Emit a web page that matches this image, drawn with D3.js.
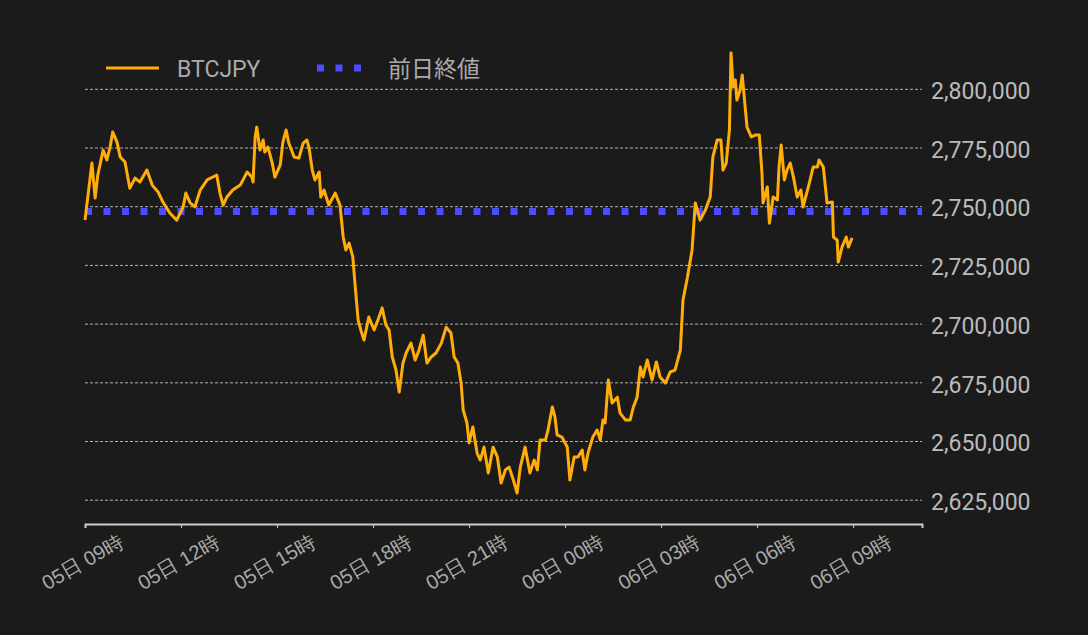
<!DOCTYPE html>
<html><head><meta charset="utf-8">
<script src="https://cdn.jsdelivr.net/npm/d3@7"></script>
<style>body{margin:0;background:#1b1b1b;}svg{display:block;font-family:"Noto Sans CJK JP","Noto Sans",sans-serif;}</style>
</head><body><svg id="c" width="1088" height="635"></svg>
<script>
// minutes after 05日 09:00
const minutes=[0,13,19,24,34,41,47,52,60,66,75,84,94,103,116,126,137,146,159,172,184,189,197,206,216,229,247,253,259,266,277,291,304,313,315,319,322,328,334,337,343,351,356,366,371,377,382,392,401,409,416,420,426,431,439,442,448,457,469,478,484,489,495,502,506,512,517,523,532,542,549,557,564,570,576,583,589,596,602,611,619,626,634,641,649,658,668,677,686,692,699,705,709,716,720,727,735,741,748,756,765,773,780,788,795,803,810,816,825,834,842,848,853,863,868,876,881,885,894,904,909,917,924,932,937,943,952,960,966,971,975,981,988,998,1003,1013,1022,1028,1035,1041,1046,1054,1063,1071,1078,1088,1097,1106,1116,1121,1129,1138,1144,1153,1163,1172,1177,1185,1192,1196,1202,1208,1211,1215,1219,1222,1228,1232,1238,1241,1249,1256,1264,1269,1271,1279,1283,1290,1298,1301,1305,1311,1316,1322,1328,1335,1342,1346,1356,1365,1373,1376,1384,1391,1401,1403,1410,1412,1419,1427,1431,1438];
// price in thousand JPY
const prices=[2744.3,2768.6,2753.7,2763.5,2774.1,2769.9,2775.4,2781.8,2777.5,2771.2,2769.0,2757.9,2762.2,2760.5,2765.6,2759.2,2756.3,2752.0,2747.3,2744.3,2749.9,2755.8,2751.6,2749.9,2757.1,2761.4,2763.5,2755.8,2750.7,2754.1,2757.1,2759.2,2764.8,2762.6,2760.5,2779.7,2783.9,2774.1,2778.4,2773.3,2775.4,2768.6,2762.6,2767.8,2777.5,2782.7,2777.1,2771.2,2770.7,2777.1,2778.4,2775.0,2765.6,2761.4,2764.8,2754.1,2757.1,2750.7,2755.8,2750.7,2737.1,2731.6,2734.5,2728.6,2717.5,2701.7,2697.5,2693.2,2703.0,2697.5,2701.7,2706.9,2699.6,2697.5,2686.0,2680.4,2671.1,2683.4,2687.7,2691.9,2684.7,2688.9,2695.3,2683.4,2686.0,2687.7,2691.9,2698.7,2696.2,2686.0,2683.4,2674.9,2663.4,2657.9,2649.4,2656.2,2645.1,2642.1,2647.6,2636.6,2647.6,2643.4,2632.3,2637.9,2639.1,2633.6,2628.0,2639.1,2647.6,2636.6,2642.1,2637.9,2650.6,2650.6,2654.9,2664.7,2660.4,2652.8,2651.9,2647.6,2633.6,2643.4,2643.4,2646.4,2637.9,2645.1,2651.9,2654.9,2650.6,2659.2,2657.9,2676.2,2666.4,2668.9,2662.1,2659.2,2659.2,2664.7,2668.9,2681.7,2677.5,2684.7,2676.2,2683.9,2677.5,2674.9,2679.6,2680.4,2688.9,2710.3,2719.6,2731.6,2751.6,2744.3,2748.6,2754.1,2771.2,2778.4,2778.4,2765.6,2768.6,2782.7,2815.5,2801.0,2804.0,2795.4,2799.7,2806.1,2791.2,2783.9,2779.7,2780.5,2780.5,2764.3,2751.6,2758.4,2743.0,2754.1,2752.9,2766.9,2776.3,2761.4,2765.6,2768.6,2762.6,2754.1,2757.1,2749.9,2758.4,2766.9,2766.9,2769.9,2766.9,2751.6,2752.0,2737.1,2735.8,2726.4,2732.8,2737.1,2732.8,2736.7];
const prevClose=2748000;
const yTicks=[2625000,2650000,2675000,2700000,2725000,2750000,2775000,2800000];
const seriesNames=["BTCJPY","前日終値"];

const start=Date.UTC(2024,0,5,9,0);
const data=minutes.map((m,i)=>({t:new Date(start+m*60000),v:prices[i]*1000}));

const svg=d3.select("#c");
const L=85,R=922,T=40,B=524;
const x=d3.scaleUtc().domain([new Date(start),new Date(start+1569*60000)]).range([L,R]);
const y=d3.scaleLinear().domain([2614870,2821000]).range([B,T]);

svg.append("g").selectAll("line").data(yTicks).join("line")
 .attr("x1",L).attr("x2",R).attr("y1",d=>y(d)).attr("y2",d=>y(d))
 .attr("stroke","#b0b0b0").attr("stroke-width",1).attr("stroke-dasharray","3,2");
const ya=svg.append("g").attr("transform",`translate(${R},0)`)
 .call(d3.axisRight(y).tickValues(yTicks).tickSize(6).tickPadding(3).tickFormat(d3.format(",")));
ya.select(".domain").remove();
ya.selectAll("line").attr("stroke","#222");
ya.selectAll("text").attr("fill","#bbb").attr("dy","0.4em").style("font-size","23px").style("font-family","Roboto,'Noto Sans',sans-serif");

const fmt=d3.utcFormat("%d日 %H時");
const xa=svg.append("g").attr("transform",`translate(0,${B})`)
 .call(d3.axisBottom(x).ticks(d3.utcHour.every(3)).tickSize(4).tickFormat(fmt));
xa.select(".domain").attr("stroke","#ccc").attr("stroke-width",2);
xa.selectAll(".tick line").attr("stroke","#ccc");
xa.selectAll("text").attr("fill","#aaa").style("font-size","20px")
 .attr("text-anchor","middle").attr("x",-3).attr("y",38).attr("dy","0.35em").attr("transform","rotate(-30,-3,38)");

svg.append("line").attr("x1",L).attr("x2",R).attr("y1",y(prevClose)).attr("y2",y(prevClose))
 .attr("stroke","#4d4dff").attr("stroke-width",7).attr("stroke-dasharray","7,11.5");

svg.append("path").datum(data).attr("fill","none").attr("stroke","#ffad0a").attr("stroke-width",3)
 .attr("stroke-linejoin","round").attr("d",d3.line().x(d=>x(d.t)).y(d=>y(d.v)));

const lg=svg.append("g");
lg.append("line").attr("x1",106).attr("x2",159).attr("y1",68).attr("y2",68).attr("stroke","#ffad0a").attr("stroke-width",3);
lg.append("text").attr("x",177).attr("y",77).text(seriesNames[0]).attr("fill","#aaa").style("font-size","23px").style("font-family","Roboto,'Noto Sans',sans-serif");
lg.append("line").attr("x1",317).attr("x2",362).attr("y1",68).attr("y2",68).attr("stroke","#4d4dff").attr("stroke-width",7).attr("stroke-dasharray","7,11.5");
lg.append("text").attr("x",388).attr("y",77).text(seriesNames[1]).attr("fill","#aaa").style("font-size","23px");
</script></body></html>
